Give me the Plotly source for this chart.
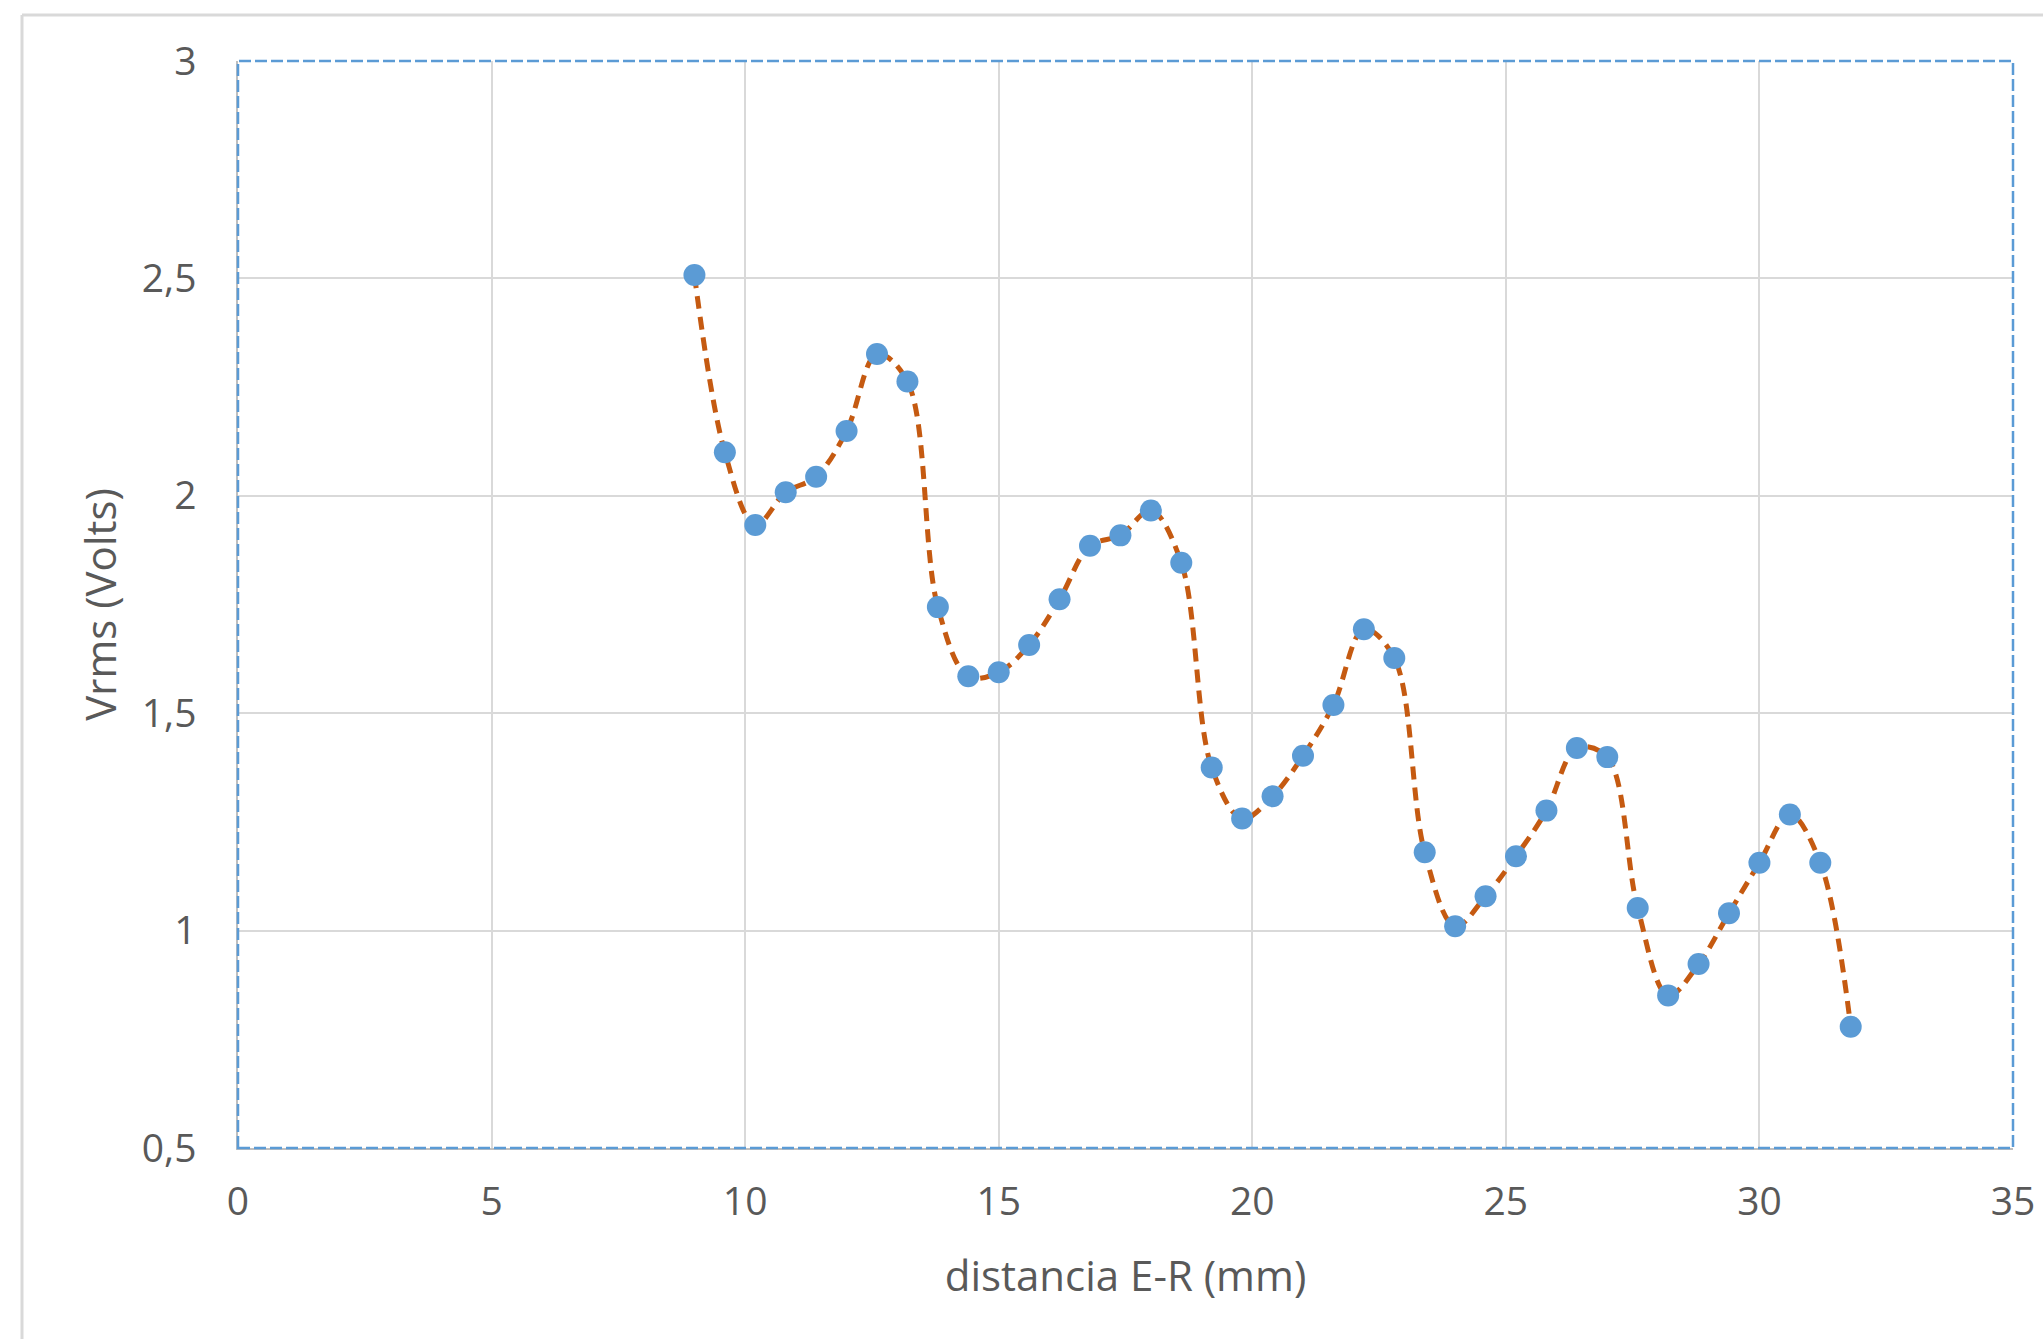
import plotly.graph_objects as go

distancia_mm = [9.0, 9.6, 10.2, 10.8, 11.4, 12.0, 12.6, 13.2, 13.8, 14.4,
                15.0, 15.6, 16.2, 16.8, 17.4, 18.0, 18.6, 19.2, 19.8, 20.4,
                21.0, 21.6, 22.2, 22.8, 23.4, 24.0, 24.6, 25.2, 25.8, 26.4,
                27.0, 27.6, 28.2, 28.8, 29.4, 30.0, 30.6, 31.2, 31.8]
vrms_volts = [2.508, 2.100, 1.933, 2.008, 2.044, 2.149, 2.326, 2.263, 1.744, 1.585,
              1.594, 1.657, 1.762, 1.885, 1.909, 1.966, 1.846, 1.375, 1.258, 1.309,
              1.402, 1.519, 1.693, 1.627, 1.180, 1.010, 1.079, 1.171, 1.276, 1.420,
              1.399, 1.052, 0.851, 0.923, 1.040, 1.156, 1.267, 1.156, 0.779]

x_ticks = [0, 5, 10, 15, 20, 25, 30, 35]
y_ticks = [0.5, 1, 1.5, 2, 2.5, 3]

W, H = 2043, 1339
L, R, T, B = 238, 30, 61, 191
pw, ph = W - L - R, H - T - B

fig = go.Figure()
fig.add_trace(go.Scatter(
    x=distancia_mm, y=vrms_volts,
    mode="lines+markers",
    line=dict(color="#C55A11", width=5, dash="13px,8px", shape="spline", smoothing=1),
    marker=dict(color="#5B9BD5", size=22, line=dict(width=0)),
    showlegend=False,
))

tickfont = dict(family="Open Sans", size=39, color="#595959")
titlefont = dict(family="Open Sans", size=42, color="#595959")

fig.update_layout(
    width=W, height=H,
    margin=dict(l=L, r=R, t=T, b=B, autoexpand=False),
    paper_bgcolor="white", plot_bgcolor="white",
    separators=",.",
    xaxis=dict(
        range=[0, 35], tickvals=x_ticks, showgrid=True, gridcolor="#D9D9D9", gridwidth=1.5,
        showline=True, linecolor="#BFBFBF", linewidth=1.5, zeroline=False,
        ticks="", ticklabelstandoff=18, tickfont=tickfont,
        title=dict(text="distancia E-R (mm)", font=titlefont, standoff=37),
        automargin=False,
    ),
    yaxis=dict(
        range=[0.5, 3], tickvals=y_ticks, showgrid=True, gridcolor="#D9D9D9", gridwidth=1.5,
        showline=True, linecolor="#BFBFBF", linewidth=1.5, zeroline=False,
        ticks="", ticklabelstandoff=32, tickfont=tickfont,
        title=dict(text="Vrms (Volts)", font=titlefont, standoff=12),
        automargin=False,
    ),
    shapes=[
        dict(type="rect", xref="paper", yref="paper", x0=0, x1=1, y0=0, y1=1,
             line=dict(color="#5B9BD5", width=2.5, dash="12px,4px"), layer="above"),
        dict(type="line", xref="paper", yref="paper",
             x0=(22 - L) / pw, x1=(W + 10 - L) / pw,
             y0=(H - B - 15) / ph, y1=(H - B - 15) / ph,
             line=dict(color="#D9D9D9", width=3)),
        dict(type="line", xref="paper", yref="paper",
             x0=(22 - L) / pw, x1=(22 - L) / pw,
             y0=(H - B - 15) / ph, y1=-(B + 10) / ph,
             line=dict(color="#D9D9D9", width=3)),
    ],
)

fig.write_html("out.html")
